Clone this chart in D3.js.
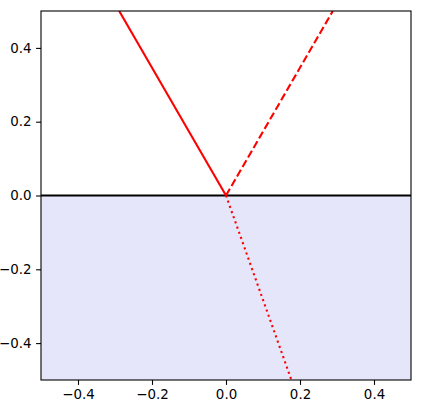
<!DOCTYPE html>
<html>
<head>
<meta charset="utf-8">
<script src="https://cdn.jsdelivr.net/npm/d3@7"></script>
<style>
  body { margin: 0; background: #fff; }
  svg text { font-family: "DejaVu Sans", sans-serif; font-size: 13.4px; fill: #000; }
</style>
</head>
<body>
<div id="chart"></div>
<script>
// Axis ranges and ticks
const xDomain = [-0.5, 0.5];
const yDomain = [-0.5, 0.5];
const xTicks = [-0.4, -0.2, 0.0, 0.2, 0.4];
const yTicks = [-0.4, -0.2, 0.0, 0.2, 0.4];

// Rays: incident, reflected, refracted (x, y endpoints)
const incident = [[-0.2887, 0.5], [0, 0]];
const reflected = [[0, 0], [0.2887, 0.5]];
const refracted = [[0, 0], [0.1768, -0.5]];

// Medium below the surface
const medium = [[-0.5, 0], [0.5, 0]];
const mediumBottom = -0.5;

const margin = { top: 11, right: 10, bottom: 31, left: 41 };
const W = 421, H = 411;
const width = W - margin.left - margin.right;
const height = H - margin.top - margin.bottom;

const svg = d3.select("#chart")
    .append("svg")
    .attr("width", W)
    .attr("height", H);

const g = svg.append("g")
    .attr("transform", `translate(${margin.left},${margin.top})`);

const x = d3.scaleLinear().domain(xDomain).range([0, width]);
const y = d3.scaleLinear().domain(yDomain).range([height, 0]);

g.append("defs").append("clipPath").attr("id", "clip")
    .append("rect").attr("width", width).attr("height", height);

const plot = g.append("g").attr("clip-path", "url(#clip)");

// shaded medium
plot.append("path")
    .datum(medium)
    .attr("d", d3.area().x(d => x(d[0])).y0(y(mediumBottom)).y1(d => y(d[1])))
    .attr("fill", "#e6e6fa");

// surface line
plot.append("path")
    .datum(medium)
    .attr("d", d3.line().x(d => x(d[0])).y(d => y(d[1])))
    .attr("stroke", "#000")
    .attr("stroke-width", 2.1)
    .attr("fill", "none");

const line = d3.line().x(d => x(d[0])).y(d => y(d[1]));

plot.append("path").datum(incident).attr("d", line)
    .attr("stroke", "#ff0000").attr("stroke-width", 2.1).attr("fill", "none");

plot.append("path").datum(reflected).attr("d", line)
    .attr("stroke", "#ff0000").attr("stroke-width", 2.1).attr("fill", "none")
    .attr("stroke-dasharray", "7.7,3.3");

plot.append("path").datum(refracted).attr("d", line)
    .attr("stroke", "#ff0000").attr("stroke-width", 2.1).attr("fill", "none")
    .attr("stroke-dasharray", "2.1,3.4");

// axes
const fmt = d => d3.format(".1f")(d).replace("-", "\u2212");

const xAxis = g.append("g")
    .attr("transform", `translate(0,${height})`)
    .call(d3.axisBottom(x).tickValues(xTicks).tickFormat(fmt).tickSize(4.9).tickPadding(4.9));

const yAxis = g.append("g")
    .call(d3.axisLeft(y).tickValues(yTicks).tickFormat(fmt).tickSize(4.9).tickPadding(4.6));

[xAxis, yAxis].forEach(a => {
    a.select(".domain").remove();
    a.selectAll("line").attr("stroke", "#000").attr("stroke-width", 1.1);
    a.selectAll("text").style("font-size", "13.4px").attr("font-family", null);
});

// frame
g.append("rect")
    .attr("width", width)
    .attr("height", height)
    .attr("fill", "none")
    .attr("stroke", "#000")
    .attr("stroke-width", 1.1);
</script>
</body>
</html>
